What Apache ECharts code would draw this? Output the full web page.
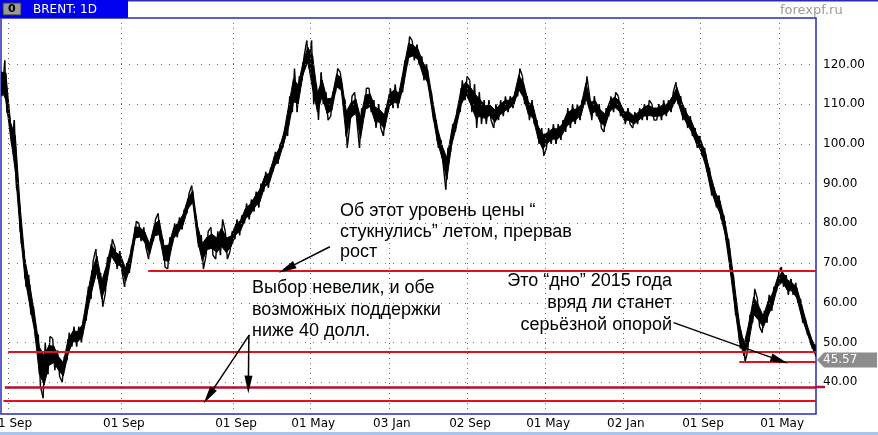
<!DOCTYPE html>
<html><head><meta charset="utf-8">
<script src="https://cdn.jsdelivr.net/npm/echarts@6/dist/echarts.min.js"></script>
<style>html,body{margin:0;padding:0;background:#fff;}#c{width:878px;height:435px;}</style>
</head><body><div id="c"></div>
<script>
// ---- data ----
const title = 'BRENT: 1D';
const watermark = 'forexpf.ru';
// x = half-month period index (0 = early Aug 2008 ... 170 = late Aug 2015)
const tickLabels = ['01 Sep','01 Sep','01 Sep','01 May','03 Jan','02 Sep','01 May','02 Jan','01 Sep','01 May'];
const tickPos = [1.5, 25, 48.4, 64.5, 80.9, 97.2, 113.5, 129.7, 145.8, 162.3];
const yTicks = [40, 50, 60, 70, 80, 90, 100, 110, 120];
const lows = [112,108,100,89,75,64,57,51,39,36,42,43,41.5,40,45.5,49,49,50,55.5,61,
  66,59,62.5,70.5,68.5,68,64,67.5,75,75.5,74,71,75.5,75.5,69,68.5,75,76.5,78.5,82.5,
  84,74,68.5,72,72,71,72,71,73,76,77,80,81,83,84,88,89,93,95,99,
  102,108,108,116,119,110,106,110,106,107,113,112,99,105,106,99,107,108,104,104,
  102,108,109,109,113,120,121,120,116,114,106,99,95,88.5,98,103,108,111,108,104,
  105,105,106,104,106,107,108,109,112,110,106,105,100,97,99,100,100,101,103,104,
  105,106,110,106,107,104,103,107,108,107,105,105,104,105,106,106,106,106,106,107,
  108,110,106,104,102,99,97,93,87,84,81,76,67,57,48.5,45.2,48,55,54,52.5,
  55,58,63,64,62,62,60,55,52,48.5,45.6];
const highs = [120,121,107,106,87,73,67,59,52,50,51.5,51,48,46.5,52.5,54,54,56,64,70.5,
  73.5,67.5,71.5,76,74,73,70,74,80.5,80,79,76,81,82.5,76,76.5,80,81.5,83.5,87.5,
  89.5,81,77,78,79,78,81,78,78,81,82,85,86,88,90,93,94,98,100,104,
  112,119,117,122,126,126,115,118,113,113,119,118,111,112,113,109,114,114,111,110,
  109,114,115,114,121,127,126,125,122,120,113,106,101,99,105,109,116,117,116,115,
  113,111,111,110,111,112,112,113,119,117,112,111,106,104,104,105,105,106,109,110,
  110,111,117,112,112,110,109,112,113,112,109,109,108,109,110,111,110,110,111,111,
  113,115.5,112,109,107,104,102,99,94,89,87,82,76,67,57,51,57,63.5,61,58,
  62,64,67.5,69,67,66,65,61,56,52,49.5];
const lastPrice = 45.57;
// support / resistance levels: [value, start period, end period]
const redLevels = [[68.1, 30.7, 170], [47.6, 1.5, 170], [45.2, 154, 170], [38.8, 0.8, 170], [35.4, 0.5, 170]];
// arrows: [fromPeriod, fromValue, toPeriod, toValue]
const arrows = [[68.6, 74.1, 59.6, 68.6], [51.8, 51.9, 43.3, 36.5], [51.7, 51.9, 51.6, 39.4], [140.3, 55.0, 162.4, 45.5]];
const notes = [
  {lines: ['Об этот уровень цены “', 'стукнулись” летом, прервав', 'рост'], x: 340, y: 211.5, step: 20.3, align: 'left'},
  {lines: ['Выбор невелик, и обе', 'возможных поддержки', 'ниже 40 долл.'], x: 252, y: 288, step: 21.6, align: 'left'},
  {lines: ['Это “дно” 2015 года', 'вряд ли станет', 'серьёзной опорой'], x: 672, y: 281, step: 22, align: 'right'}
];

// drawing helpers: stroke order inside each period (low->high when rising, high->low when falling)
const n = lows.length;
const rising = lows.map((lo, i) => {
  const a = Math.max(i - 1, 0), b = Math.min(i + 1, n - 1);
  return lows[b] + highs[b] >= lows[a] + highs[a];
});
const firstV = lows.map((lo, i) => rising[i] ? lo : highs[i]);
const secondV = lows.map((lo, i) => rising[i] ? highs[i] : lo);
const nx = i => Math.min(i + 1, n - 1);
const bandData = lows.map((lo, i) => [i, lo, highs[i], lows[nx(i)], highs[nx(i)], firstV[i], secondV[i], i < n - 1 ? firstV[i + 1] : secondV[i]]);
const CORE = 0.24; // fraction of each period's range left as spikes on both sides of the solid core

const chart = echarts.init(document.getElementById('c'), null, {renderer: 'canvas'});
const FONT = 'DejaVu Sans';
const gridDots = yTicks.map(v => ({yAxis: v, lineStyle: {type: [1, 7], color: '#6a6a6a', width: 1}}))
  .concat(tickPos.map(p => ({xAxis: p, lineStyle: {type: [1, 4], color: '#6a6a6a', width: 1}})));
const redData = redLevels.map((r, k) => [
  {coord: [r[1], r[0]], lineStyle: {color: k === 3 ? '#b3102c' : '#e0101e', width: k === 3 ? 2.5 : 2, type: 'solid'}},
  {coord: [r[2], r[0]]}
]);
const arrowData = arrows.map(a => [{coord: [a[0], a[1]]}, {coord: [a[2], a[3]]}]);

const texts = [];
notes.forEach(nt => nt.lines.forEach((t, k) => texts.push({
  type: 'text', x: nt.x, y: nt.y + k * nt.step, z: 50,
  style: {text: t, fill: '#000', font: '18px "Liberation Sans", Arial, sans-serif', align: nt.align, verticalAlign: 'middle'}
})));

chart.setOption({
  animation: false,
  backgroundColor: '#fff',
  grid: {left: 1, right: 62, top: 18, bottom: 21, outerBoundsMode: 'none', containLabel: false,
    show: true, borderColor: '#2a2ab4', borderWidth: 1.5, backgroundColor: '#fff'},
  xAxis: {type: 'value', min: 0, max: 170, splitLine: {show: false}, axisLine: {show: false}, axisTick: {show: false},
    axisLabel: {customValues: tickPos, margin: 4, color: '#000', fontSize: 12, fontFamily: FONT, padding: [0, 0, 0, 6],
      formatter: v => { const k = tickPos.findIndex(p => Math.abs(p - v) < 1e-6); return k >= 0 ? tickLabels[k] : ''; }}},
  yAxis: {type: 'value', position: 'right', min: 32, max: 131.7, splitLine: {show: false}, axisLine: {show: false}, axisTick: {show: false},
    axisLabel: {customValues: yTicks, margin: 7, color: '#000', fontSize: 12, fontFamily: FONT, formatter: v => v.toFixed(2)}},
  series: [
    {type: 'line', data: [], z: 1, silent: true,
      markLine: {silent: true, symbol: 'none', label: {show: false}, animation: false, data: gridDots}},
    {type: 'custom', z: 2, clip: true, data: bandData, silent: true,
      renderItem: function (params, api) {
        const x = api.value(0);
        const lo0 = api.value(1), hi0 = api.value(2), lo1 = api.value(3), hi1 = api.value(4);
        const r0 = (hi0 - lo0) * CORE, r1 = (hi1 - lo1) * CORE;
        const last = x >= n - 1;
        const xe = last ? x : x + 1;
        const core = [api.coord([x, hi0 - r0]), api.coord([xe, hi1 - r1]), api.coord([xe, lo1 + r1]), api.coord([x, lo0 + r0])];
        const p1 = api.coord([x - 0.22, api.value(5)]);
        const p2 = api.coord([x + 0.22, api.value(6)]);
        const p3 = api.coord([x + 0.78, api.value(7)]);
        return {type: 'group', children: [
          {type: 'polygon', shape: {points: core}, style: {fill: '#000', stroke: '#000', lineWidth: 1}},
          {type: 'polyline', shape: {points: last ? [p1, p2] : [p1, p2, p3]},
            style: {stroke: '#000', lineWidth: 1.4, fill: null, lineJoin: 'bevel', lineCap: 'butt'}}
        ]};
      }},
    {type: 'line', data: [], z: 3, silent: true,
      markLine: {silent: true, symbol: 'none', label: {show: false}, animation: false, data: redData}},
    {type: 'line', data: [], z: 4, silent: true,
      markLine: {silent: true, symbol: ['none', 'triangle'], symbolSize: [8, 18], label: {show: false}, animation: false,
        lineStyle: {color: '#000', width: 1.5, type: 'solid'}, data: arrowData}}
  ]
});

const yTag = chart.convertToPixel({yAxisIndex: 0}, lastPrice);
const yExt = chart.convertToPixel({yAxisIndex: 0}, redLevels[3][0]);
const gridRight = 878 - 62;
chart.setOption({
  graphic: [
    {type: 'rect', shape: {x: 0, y: 0, width: 878, height: 1.5}, style: {fill: '#2a2ab4'}, z: 40},
    {type: 'rect', shape: {x: 0, y: 0, width: 128, height: 18}, style: {fill: '#0000ee'}, z: 41},
    {type: 'rect', shape: {x: 3, y: 3, width: 18, height: 12}, style: {fill: '#9a9a9a', stroke: '#333', lineWidth: 1}, z: 42},
    {type: 'text', x: 8, y: 9.5, style: {text: '0', fill: '#000', font: 'bold 11px "DejaVu Sans"', verticalAlign: 'middle'}, z: 43},
    {type: 'text', x: 33, y: 10, style: {text: title, fill: '#fff', font: '12px "DejaVu Sans"', verticalAlign: 'middle'}, z: 43},
    {type: 'text', x: 780, y: 11, style: {text: watermark, fill: '#9a9a9a', font: '13px "DejaVu Sans"', verticalAlign: 'middle'}, z: 43},
    {type: 'rect', shape: {x: 0, y: 432, width: 878, height: 3}, style: {fill: '#a8c4e8'}, z: 40},
    {type: 'line', shape: {x1: gridRight, y1: yExt, x2: gridRight + 9, y2: yExt}, style: {stroke: '#b3102c', lineWidth: 2.5}, z: 40},
    {type: 'polygon', shape: {points: [[gridRight + 1, yTag], [gridRight + 8, yTag - 7.5], [877, yTag - 7.5], [877, yTag + 7.5], [gridRight + 8, yTag + 7.5]]},
      style: {fill: '#8c8c8c'}, z: 44},
    {type: 'text', x: gridRight + 7, y: yTag, style: {text: lastPrice.toFixed(2), fill: '#fff', font: '12px "DejaVu Sans"', verticalAlign: 'middle'}, z: 45}
  ].concat(texts)
});
</script></body></html>
